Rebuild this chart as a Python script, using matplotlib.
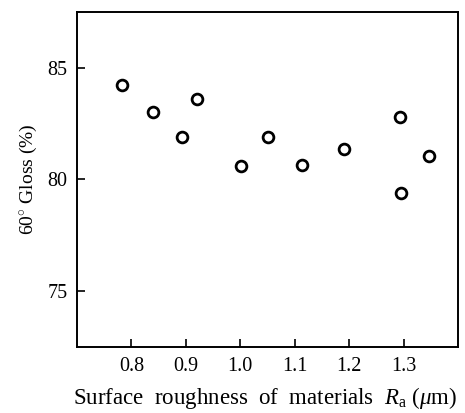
import matplotlib
matplotlib.use('Agg')
import matplotlib.pyplot as plt

# surface roughness Ra (um) vs 60 deg gloss (%)
roughness = [0.782, 0.840, 0.892, 0.921, 1.002, 1.051, 1.113, 1.190, 1.294, 1.295, 1.346]
gloss = [84.24, 83.04, 81.88, 83.62, 80.58, 81.88, 80.63, 81.38, 82.81, 79.38, 81.07]

xticks = [0.8, 0.9, 1.0, 1.1, 1.2, 1.3]
yticks = [75, 80, 85]

plt.rcParams['font.family'] = ['Liberation Serif', 'DejaVu Serif']
plt.rcParams['mathtext.fontset'] = 'custom'
plt.rcParams['mathtext.it'] = 'Liberation Serif:italic'
plt.rcParams['mathtext.rm'] = 'Liberation Serif'

fig = plt.figure(figsize=(4.65, 4.13), dpi=100)
ax = fig.add_axes([0.1656, 0.160, 0.8194, 0.811])

ax.scatter(roughness, gloss, s=60, facecolors='white', edgecolors='black', linewidths=2, zorder=3)

ax.set_xlim(0.7, 1.4)
ax.set_ylim(72.5, 87.5)
ax.set_xticks(xticks)
ax.set_xticklabels(['%.1f' % v for v in xticks])
ax.set_yticks(yticks)
ax.tick_params(direction='in', length=6, width=1.2, labelsize=14.5, pad=7)
for s in ax.spines.values():
    s.set_linewidth(1.4)

ax.set_ylabel('60$^{\\circ}$ Gloss (%)', fontsize=14, labelpad=6)
ax.set_xlabel('Surface  roughness  of  materials  $R_{\\rm a}$ ($\\mu$m)', fontsize=16.5)
ax.xaxis.set_label_coords(0.493, -0.115)

fig.savefig('out.png', dpi=100)
